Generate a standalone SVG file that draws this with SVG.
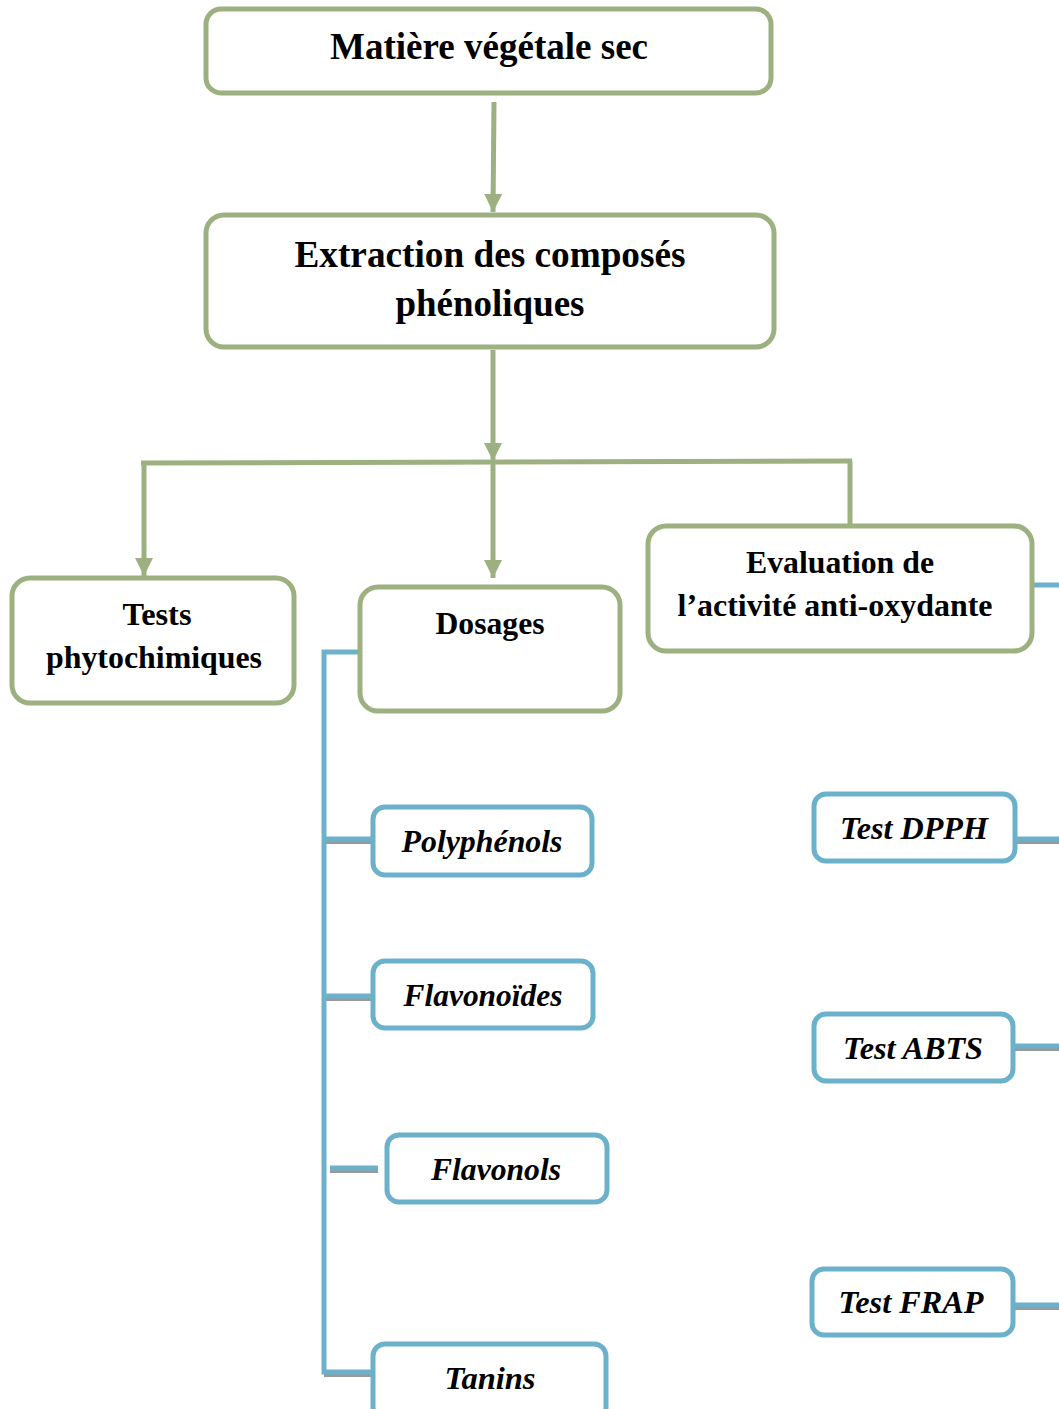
<svg xmlns="http://www.w3.org/2000/svg" width="1059" height="1409" viewBox="0 0 1059 1409">
<style>
.g{fill:#fff;stroke:#9CB080;stroke-width:5}
.b{fill:#fff;stroke:#6BB1CB;stroke-width:5}
.gl{fill:none;stroke:#9CB080;stroke-width:5}
.bl{fill:none;stroke:#6BB1CB;stroke-width:5}
.sh{fill:none;stroke:#999;stroke-width:4}
.t{font-family:"Liberation Serif","Times New Roman",serif;font-weight:bold;fill:#000;text-anchor:middle}
.t1{font-size:37px}
.t2{font-size:32px}
.ti{font-size:32px;font-style:italic}
</style>
<defs>
<marker id="ah" markerUnits="userSpaceOnUse" viewBox="0 0 18 18" refX="18" refY="9" markerWidth="18" markerHeight="18" orient="auto">
<path d="M0,0 L18,9 L0,18 z" fill="#9CB080"/>
</marker>
</defs>
<rect width="1059" height="1409" fill="#fff"/>
<g id="connectors">
<line class="gl" x1="494" y1="102" x2="493" y2="212" marker-end="url(#ah)"/>
<line class="gl" x1="493" y1="350" x2="493" y2="461" marker-end="url(#ah)"/>
<line class="gl" x1="141" y1="463" x2="852" y2="461"/>
<line class="gl" x1="144" y1="463" x2="144" y2="576" marker-end="url(#ah)"/>
<line class="gl" x1="493" y1="463" x2="493" y2="578" marker-end="url(#ah)"/>
<line class="gl" x1="850" y1="461" x2="850" y2="525"/>
<line class="sh" x1="324" y1="842" x2="373" y2="842"/>
<line class="sh" x1="324" y1="999" x2="373" y2="999"/>
<line class="sh" x1="330" y1="1171" x2="378" y2="1171"/>
<line class="sh" x1="324" y1="1375" x2="373" y2="1375"/>
<line class="sh" x1="1015" y1="842" x2="1059" y2="842"/>
<line class="sh" x1="1013" y1="1049" x2="1059" y2="1049"/>
<line class="sh" x1="1013" y1="1308" x2="1059" y2="1308"/>
<path class="bl" d="M358,652 L324,652 L324,1372 L373,1372"/>
<line class="bl" x1="324" y1="839" x2="373" y2="839"/>
<line class="bl" x1="324" y1="996" x2="373" y2="996"/>
<line class="bl" x1="330" y1="1168" x2="378" y2="1168"/>
<line class="bl" x1="1033" y1="585" x2="1059" y2="585"/>
<line class="bl" x1="1015" y1="839" x2="1059" y2="839"/>
<line class="bl" x1="1013" y1="1046" x2="1059" y2="1046"/>
<line class="bl" x1="1013" y1="1305" x2="1059" y2="1305"/>
</g>
<g id="matiere">
<rect class="g" x="206" y="9" width="565" height="84" rx="15"/>
<text class="t t1" x="489" y="59" textLength="318" lengthAdjust="spacingAndGlyphs">Matière végétale sec</text>
</g>
<g id="extraction">
<rect class="g" x="206" y="215" width="568" height="132" rx="18"/>
<text class="t t1" x="490" y="267" textLength="391" lengthAdjust="spacingAndGlyphs">Extraction des composés</text>
<text class="t t1" x="490" y="316" textLength="189" lengthAdjust="spacingAndGlyphs">phénoliques</text>
</g>
<g id="tests">
<rect class="g" x="12" y="578" width="282" height="125" rx="18"/>
<text class="t t2" x="157" y="625" textLength="69" lengthAdjust="spacingAndGlyphs">Tests</text>
<text class="t t2" x="154" y="668" textLength="216" lengthAdjust="spacingAndGlyphs">phytochimiques</text>
</g>
<g id="dosages">
<rect class="g" x="360" y="587" width="260" height="124" rx="18"/>
<text class="t t2" x="490" y="634" textLength="109" lengthAdjust="spacingAndGlyphs">Dosages</text>
</g>
<g id="evaluation">
<rect class="g" x="648" y="526" width="384" height="125" rx="18"/>
<text class="t t2" x="840" y="573" textLength="188" lengthAdjust="spacingAndGlyphs">Evaluation de</text>
<text class="t t2" x="835" y="616" textLength="315" lengthAdjust="spacingAndGlyphs">l’activité anti-oxydante</text>
</g>
<g id="polyphenols">
<rect class="b" x="373" y="807" width="219" height="68" rx="12"/>
<text class="t ti" x="482" y="852" textLength="161" lengthAdjust="spacingAndGlyphs">Polyphénols</text>
</g>
<g id="flavonoides">
<rect class="b" x="373" y="961" width="220" height="67" rx="12"/>
<text class="t ti" x="483" y="1006" textLength="159" lengthAdjust="spacingAndGlyphs">Flavonoïdes</text>
</g>
<g id="flavonols">
<rect class="b" x="387" y="1135" width="220" height="67" rx="12"/>
<text class="t ti" x="496" y="1180" textLength="130" lengthAdjust="spacingAndGlyphs">Flavonols</text>
</g>
<g id="tanins">
<rect class="b" x="373" y="1344" width="233" height="75" rx="12"/>
<text class="t ti" x="490" y="1389" textLength="91" lengthAdjust="spacingAndGlyphs">Tanins</text>
</g>
<g id="dpph">
<rect class="b" x="814" y="794" width="201" height="67" rx="12"/>
<text class="t ti" x="914" y="839" textLength="148" lengthAdjust="spacingAndGlyphs">Test DPPH</text>
</g>
<g id="abts">
<rect class="b" x="814" y="1014" width="199" height="67" rx="12"/>
<text class="t ti" x="913" y="1059" textLength="140" lengthAdjust="spacingAndGlyphs">Test ABTS</text>
</g>
<g id="frap">
<rect class="b" x="812" y="1269" width="201" height="66" rx="12"/>
<text class="t ti" x="911" y="1313" textLength="145" lengthAdjust="spacingAndGlyphs">Test FRAP</text>
</g>
</svg>
